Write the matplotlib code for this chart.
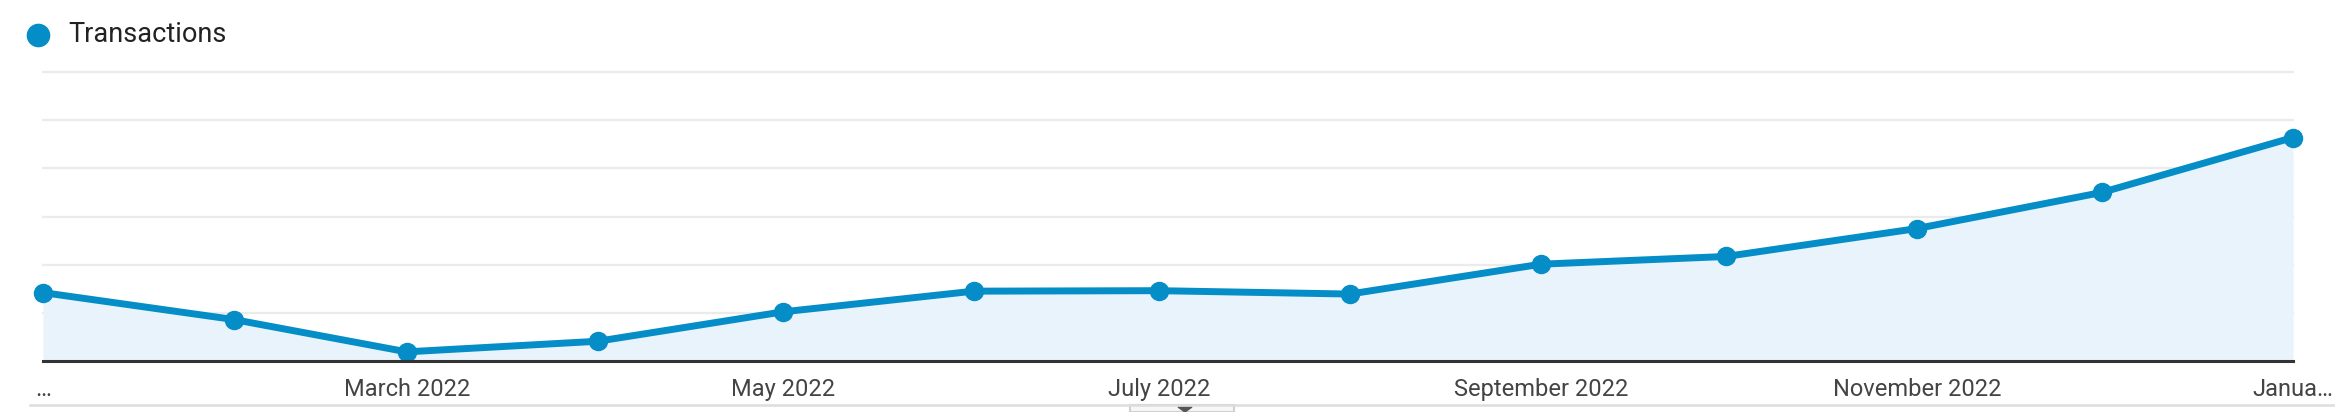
import matplotlib
matplotlib.use("Agg")
import matplotlib.pyplot as plt
import matplotlib.dates as mdates
from matplotlib.patches import Rectangle, Polygon
from matplotlib.lines import Line2D
import numpy as np

# monthly transactions, Jan 2022 .. Jan 2023
months = ["2022-01-01", "2022-02-01", "2022-03-01", "2022-04-01", "2022-05-01", "2022-06-01",
          "2022-07-01", "2022-08-01", "2022-09-01", "2022-10-01", "2022-11-01", "2022-12-01",
          "2023-01-01"]
transactions = [142, 86, 19, 41, 102, 145, 146, 139, 201, 217, 275, 350, 464]
tick_labels = ["\u2026", "March 2022", "May 2022", "July 2022", "September 2022",
               "November 2022", "Janua\u2026"]
series_name = "Transactions"

W, H = 2335, 412
LINE = "#058dc7"
FILL = "#e9f3fb"

plt.rcParams["font.family"] = ["Roboto", "DejaVu Sans"]

fig = plt.figure(figsize=(W / 100, H / 100), dpi=100)
left, right, top, bottom = 43, 2293, 72, 361
ax = fig.add_axes([left / W, 1 - bottom / H, (right - left) / W, (bottom - top) / H])

x = mdates.date2num(np.array(months, dtype="datetime64[D]"))
ax.fill_between(x, transactions, 0, color=FILL, zorder=1, linewidth=0)
ax.plot(x, transactions, color=LINE, lw=5, marker="o", markersize=13,
        zorder=3, clip_on=False, solid_joinstyle="round")

ax.set_xlim(x[0], x[-1])
ax.set_ylim(0, 600)
for yv in range(100, 601, 100):
    ax.axhline(yv, color="#ebebeb", lw=1.6, zorder=0, clip_on=False)
ax.axhline(0, color="#333333", lw=2.2, zorder=4, clip_on=False)

ax.set_yticks([])
ax.set_xticks(x[::2])
ax.set_xticklabels(tick_labels, fontsize=17, color="#444444")
ax.tick_params(axis="x", length=0, pad=12)
for s in ax.spines.values():
    s.set_visible(False)

# legend
fig.add_artist(Line2D([38 / W], [1 - 35 / H], marker="o", markersize=16,
                      color=LINE, linestyle="none", transform=fig.transFigure))
fig.text(68 / W, 1 - 35 / H, series_name, fontsize=19.5, color="#222222",
         va="center", ha="left")

# bottom divider and handle tab
fig.add_artist(Line2D([30 / W, 1], [1 - 405 / H] * 2, color="#dddddd", lw=1.8,
                      transform=fig.transFigure))
fig.add_artist(Rectangle((1130 / W, 0), 104 / W, 7.5 / H, facecolor="#f7f7f7",
                         edgecolor="#d0d0d0", lw=1.5, transform=fig.transFigure))
fig.add_artist(Polygon([[1178 / W, 5 / H], [1192 / W, 5 / H], [1185 / W, 0]],
                       closed=True, color="#555555", transform=fig.transFigure))

fig.savefig("out.png", dpi=100, facecolor="white")
